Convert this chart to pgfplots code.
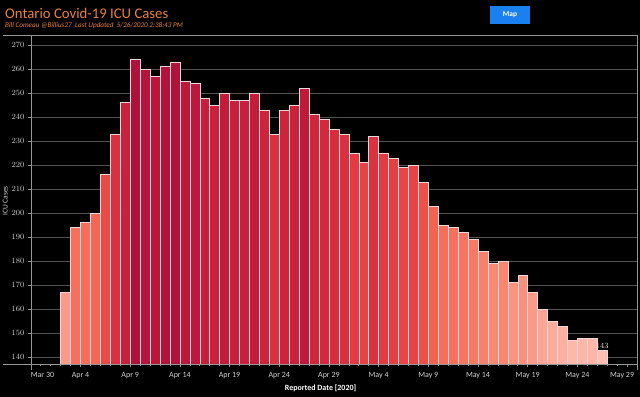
\documentclass[border=0pt]{standalone}
\usepackage{pgfplots}
\pgfplotsset{compat=1.18}
\usepackage{fontspec}
\setmainfont{Carlito}
\definecolor{ttl}{RGB}{232,131,56}
\definecolor{gridc}{RGB}{82,82,82}
\definecolor{axl}{RGB}{150,150,150}
\definecolor{tl}{RGB}{210,210,210}
\definecolor{btn}{RGB}{26,128,240}
\definecolor{sep}{RGB}{238,214,220}
\pgfplotsset{colormap={tabred}{rgb255=(255,190,178) rgb255=(254,180,166) rgb255=(253,171,155) rgb255=(252,162,144) rgb255=(251,153,132) rgb255=(250,143,121) rgb255=(249,133,110) rgb255=(247,123,102) rgb255=(245,113,93) rgb255=(243,103,84) rgb255=(240,92,77) rgb255=(236,80,73) rgb255=(231,69,69) rgb255=(225,59,66) rgb255=(218,50,63) rgb255=(211,41,61) rgb255=(202,34,60) rgb255=(193,26,59) rgb255=(184,22,58) rgb255=(174,18,58)}}
\newcommand\B[2]{%
  \pgfmathtruncatemacro\cv{(#2-143)/121*1000}%
  \edef\tmp{\noexpand\addplot[ybar, bar width=1, bar shift=0pt, color of colormap={\cv\space of tabred}, fill, draw=sep, line width=0.45bp] coordinates {(#1,#2)};}%
  \tmp}
\begin{document}
\begin{tikzpicture}
\fill[black] (0,0) rectangle (640bp,397bp);
\begin{axis}[
  at={(30.8bp,32.8bp)}, anchor=south west,
  width=606.2bp, height=326.4bp, scale only axis,
  xmin=0, xmax=61, ymin=137, ymax=273,
  axis line style={draw=none},
  ytick={140,150,...,270},
  ymajorgrids, grid style={gridc, line width=0.7bp},
  xtick={0,5,...,60},
  xticklabels={\makebox[0pt][l]{Mar 30}, Apr 4, Apr 9, Apr 14, Apr 19, Apr 24, Apr 29, May 4, May 9, May 14, May 19, May 24, \makebox[0pt][r]{May 29\hspace{-7bp}}},
  minor xtick={0,1,...,60},
  tick style={axl, line width=0.5bp},
  major tick length=3bp, minor tick length=1.5bp,
  tick align=outside, xtick pos=bottom, ytick pos=left,
  ticklabel style={font=\fontsize{8}{8}\selectfont, text=tl},
  xticklabel style={yshift=-2bp},
  xlabel={Reported Date [2020]}, ylabel={ICU Cases},
  xlabel style={font=\fontsize{8}{8}\selectfont\bfseries, text=white, at={(axis description cs:0.478,0)}, anchor=center, yshift=-23.8bp},
  ylabel style={font=\fontsize{7.5}{8}\selectfont, text=tl, yshift=-3bp},
]
\B{3.5}{167}
\B{4.5}{194}
\B{5.5}{196}
\B{6.5}{200}
\B{7.5}{216}
\B{8.5}{233}
\B{9.5}{246}
\B{10.5}{264}
\B{11.5}{260}
\B{12.5}{257}
\B{13.5}{261}
\B{14.5}{263}
\B{15.5}{255}
\B{16.5}{254}
\B{17.5}{248}
\B{18.5}{245}
\B{19.5}{250}
\B{20.5}{247}
\B{21.5}{247}
\B{22.5}{250}
\B{23.5}{243}
\B{24.5}{233}
\B{25.5}{243}
\B{26.5}{245}
\B{27.5}{252}
\B{28.5}{241}
\B{29.5}{239}
\B{30.5}{235}
\B{31.5}{233}
\B{32.5}{225}
\B{33.5}{221}
\B{34.5}{232}
\B{35.5}{225}
\B{36.5}{223}
\B{37.5}{219}
\B{38.5}{220}
\B{39.5}{213}
\B{40.5}{203}
\B{41.5}{195}
\B{42.5}{194}
\B{43.5}{192}
\B{44.5}{189}
\B{45.5}{184}
\B{46.5}{179}
\B{47.5}{180}
\B{48.5}{171}
\B{49.5}{174}
\B{50.5}{167}
\B{51.5}{160}
\B{52.5}{155}
\B{53.5}{153}
\B{54.5}{147}
\B{55.5}{148}
\B{56.5}{148}
\B{57.5}{143}
\addplot[ybar, bar width=1, bar shift=0pt, draw=none, fill=none, nodes near coords, nodes near coords style={font=\fontsize{8}{8}\selectfont\bfseries, text=white!92!black, inner sep=1bp}] coordinates {(57.5,143)};
\end{axis}
% frame lines
\draw[axl, line width=0.6bp] (3bp,361.5bp) -- (637.5bp,361.5bp);
\draw[axl, line width=0.6bp] (637bp,361.5bp) -- (637bp,27bp);
\draw[axl, line width=0.6bp] (3bp,32.6bp) -- (637bp,32.6bp);
\draw[axl, line width=0.6bp] (30.8bp,361.5bp) -- (30.8bp,27bp);
% title
\node[anchor=base west, inner sep=0, text=ttl, font=\fontsize{14.8}{15}\selectfont] at (5bp,378bp) {Ontario Covid-19 ICU Cases};
\node[anchor=base west, inner sep=0, text=ttl, font=\fontsize{7.2}{7.5}\selectfont\itshape] at (5bp,369bp) {Bill Comeau @Billius27\ \ Last Updated\ \ 5/26/2020 2:38:43 PM};
% button
\fill[btn] (490bp,373bp) rectangle (530bp,391bp);
\node[text=white, font=\fontsize{7.5}{8}\selectfont\bfseries] at (510bp,382bp) {Map};
\pgfresetboundingbox
\useasboundingbox (0,0) rectangle (640bp,397bp);
\end{tikzpicture}
\end{document}
